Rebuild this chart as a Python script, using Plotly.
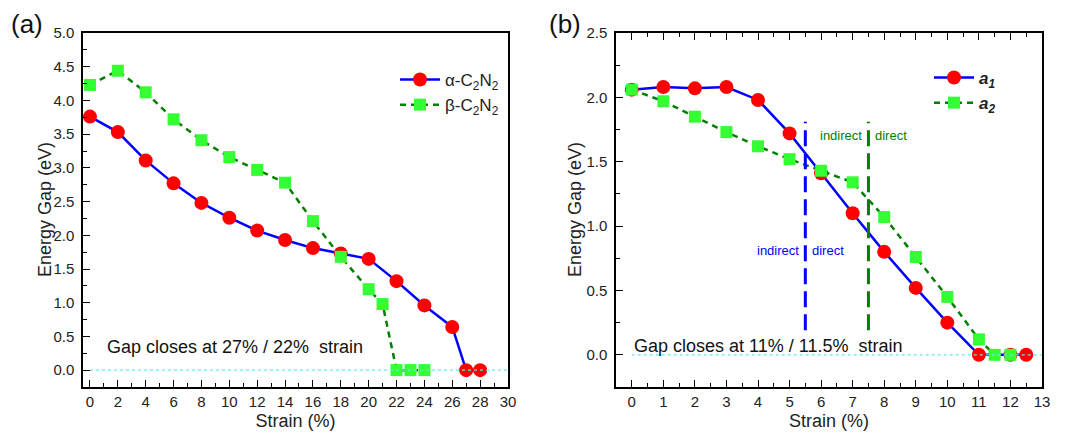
import plotly.graph_objects as go

# ---- data: panel (a) ----
alpha_x = [0, 2, 4, 6, 8, 10, 12, 14, 16, 18, 20, 22, 24, 26, 27, 28]
alpha_y = [3.76, 3.53, 3.11, 2.77, 2.48, 2.26, 2.07, 1.93, 1.81, 1.73, 1.65, 1.32, 0.96, 0.64, 0.0, 0.0]
beta_x = [0, 2, 4, 6, 8, 10, 12, 14, 16, 18, 20, 21, 22, 23, 24]
beta_y = [4.23, 4.44, 4.12, 3.72, 3.41, 3.16, 2.97, 2.78, 2.21, 1.68, 1.20, 0.98, 0.0, 0.0, 0.0]

# ---- data: panel (b) ----
a1_x = [0, 1, 2, 3, 4, 5, 6, 7, 8, 9, 10, 11, 12, 12.5]
a1_y = [2.06, 2.08, 2.07, 2.08, 1.98, 1.72, 1.41, 1.10, 0.80, 0.52, 0.25, 0.0, 0.0, 0.0]
a2_x = [0, 1, 2, 3, 4, 5, 6, 7, 8, 9, 10, 11, 11.5, 12]
a2_y = [2.06, 1.97, 1.85, 1.73, 1.62, 1.52, 1.43, 1.34, 1.07, 0.76, 0.45, 0.12, 0.0, 0.0]

transition_a1_x = 5.5
transition_a2_x = 7.5
transition_y = [0.19, 1.81]

FONT = "Liberation Sans, Arial, sans-serif"
BLUE = "#0000ff"
DGREEN = "#008000"
RED = "#ff0000"
LIME = "#33ff33"

# page body adds an 8px offset; figure is sized to fit inside the window
W, H = 1051, 423
ML, MR, MT, MB = 75, 17, 25, 44
PW = W - ML - MR
PH = H - MT - MB


def px_x(px):  # figure pixel -> paper x
    return (px - ML) / PW


def px_y(py):  # figure pixel -> paper y
    return 1 - (py - MT) / PH


fig = go.Figure()

fig.add_trace(go.Scatter(x=alpha_x, y=alpha_y, mode="lines+markers",
                         name="α-C<sub>2</sub>N<sub>2</sub>",
                         line=dict(color=BLUE, width=2.5),
                         marker=dict(symbol="circle", size=14, color=RED),
                         xaxis="x", yaxis="y", legend="legend"))
fig.add_trace(go.Scatter(x=beta_x, y=beta_y, mode="lines+markers",
                         name="β-C<sub>2</sub>N<sub>2</sub>",
                         line=dict(color=DGREEN, width=2.5, dash="6px,5px"),
                         marker=dict(symbol="square", size=12, color=LIME),
                         xaxis="x", yaxis="y", legend="legend"))
fig.add_trace(go.Scatter(x=a1_x, y=a1_y, mode="lines+markers",
                         name="<b><i>a</i></b><sub><b><i>1</i></b></sub>",
                         line=dict(color=BLUE, width=2.5),
                         marker=dict(symbol="circle", size=14, color=RED),
                         xaxis="x2", yaxis="y2", legend="legend2"))
fig.add_trace(go.Scatter(x=a2_x, y=a2_y, mode="lines+markers",
                         name="<b><i>a</i></b><sub><b><i>2</i></b></sub>",
                         line=dict(color=DGREEN, width=2.5, dash="6px,5px"),
                         marker=dict(symbol="square", size=12, color=LIME),
                         xaxis="x2", yaxis="y2", legend="legend2"))

axis_common = dict(showline=True, linecolor="black", linewidth=1.5,
                   ticks="inside", ticklen=7, tickwidth=1.2, tickcolor="black",
                   showgrid=False, zeroline=False, automargin=True,
                   tickfont=dict(family=FONT, size=15, color="#222"),
                   title_font=dict(family=FONT, size=18, color="#222"))
minor_y = dict(dtick=0.25, ticks="inside", ticklen=4, tickcolor="black")

fig.update_layout(
    width=W, height=H, margin=dict(l=ML, r=MR, t=MT, b=MB, autoexpand=False),
    paper_bgcolor="white", plot_bgcolor="white",
    font=dict(family=FONT, color="#222"),
    xaxis=dict(domain=[0, px_x(500)], range=[-0.5, 30], dtick=2, tick0=0, mirror=True,
               minor=dict(dtick=1, ticks="inside", ticklen=4, tickcolor="black"),
               title=dict(text="Strain (%)", standoff=8), anchor="y", **axis_common),
    yaxis=dict(domain=[0, 1], range=[-0.25, 5.0], dtick=0.5, tick0=0, tickformat=".1f",
               mirror=True, minor=minor_y, anchor="x", ticklabelstandoff=4, **axis_common),
    xaxis2=dict(domain=[px_x(608), 1], range=[-0.5, 13], dtick=1, tick0=0, mirror="ticks",
                minor=dict(dtick=0.5, ticks="inside", ticklen=4, tickcolor="black"),
                title=dict(text="Strain (%)", standoff=8), anchor="y2", **axis_common),
    yaxis2=dict(domain=[0, 1], range=[-0.25, 2.5], dtick=0.5, tick0=0, tickformat=".1f",
                mirror=True, minor=minor_y, anchor="x2", ticklabelstandoff=4, **axis_common),
    legend=dict(x=387 / W, y=1 - 54 / H, xref="container", yref="container",
                xanchor="left", yanchor="top", itemwidth=40,
                bgcolor="rgba(0,0,0,0)", font=dict(family=FONT, size=17, color="#222")),
    legend2=dict(x=921 / W, y=1 - 52 / H, xref="container", yref="container",
                 xanchor="left", yanchor="top", itemwidth=40,
                 bgcolor="rgba(0,0,0,0)", font=dict(family=FONT, size=17, color="#222")),
)

# y-axis titles (rotated text)
fig.add_annotation(x=px_x(37), y=px_y(202), xref="paper", yref="paper",
                   text="Energy Gap (eV)", textangle=-90, showarrow=False,
                   xanchor="center", yanchor="middle",
                   font=dict(family=FONT, size=18, color="#222"))
fig.add_annotation(x=px_x(567), y=px_y(202), xref="paper", yref="paper",
                   text="Energy Gap (eV)", textangle=-90, showarrow=False,
                   xanchor="center", yanchor="middle",
                   font=dict(family=FONT, size=18, color="#222"))

# zero reference lines
fig.add_shape(type="line", xref="x", yref="y", x0=0, x1=30, y0=0, y1=0,
              line=dict(color="#66e6f0", width=1.2, dash="dot"))
fig.add_shape(type="line", xref="x2", yref="y2", x0=0, x1=13, y0=0, y1=0,
              line=dict(color="#66e6f0", width=1.2, dash="dot"))

# transition lines
fig.add_shape(type="line", xref="x2", yref="y2", x0=transition_a1_x, x1=transition_a1_x,
              y0=transition_y[0], y1=transition_y[1],
              line=dict(color=BLUE, width=3, dash="16px,7px"))
fig.add_shape(type="line", xref="x2", yref="y2", x0=transition_a2_x, x1=transition_a2_x,
              y0=transition_y[0], y1=transition_y[1],
              line=dict(color=DGREEN, width=3, dash="16px,7px"))

ann_font = dict(family=FONT, size=13)
fig.add_annotation(x=transition_a1_x - 0.15, y=0.81, xref="x2", yref="y2", text="indirect",
                   showarrow=False, xanchor="right", font=dict(color=BLUE, **ann_font))
fig.add_annotation(x=transition_a1_x + 0.15, y=0.81, xref="x2", yref="y2", text="direct",
                   showarrow=False, xanchor="left", font=dict(color=BLUE, **ann_font))
fig.add_annotation(x=transition_a2_x - 0.15, y=1.70, xref="x2", yref="y2", text="indirect",
                   showarrow=False, xanchor="right", font=dict(color=DGREEN, **ann_font))
fig.add_annotation(x=transition_a2_x + 0.15, y=1.70, xref="x2", yref="y2", text="direct",
                   showarrow=False, xanchor="left", font=dict(color=DGREEN, **ann_font))

fig.add_annotation(x=1.1, y=0.34, xref="x", yref="y", text="Gap closes at 27% / 22%  strain",
                   showarrow=False, xanchor="left", font=dict(family=FONT, size=18, color="#111"))
fig.add_annotation(x=0.0, y=0.07, xref="x2", yref="y2", text="Gap closes at 11% / 11.5%  strain",
                   showarrow=False, xanchor="left", font=dict(family=FONT, size=18, color="#111"))

fig.add_annotation(x=px_x(19), y=px_y(16), xref="paper", yref="paper", text="(a)",
                   showarrow=False, xanchor="center", yanchor="middle",
                   font=dict(family=FONT, size=26, color="#111"))
fig.add_annotation(x=px_x(557), y=px_y(16), xref="paper", yref="paper", text="(b)",
                   showarrow=False, xanchor="center", yanchor="middle",
                   font=dict(family=FONT, size=26, color="#111"))

fig.write_html("out.html")
